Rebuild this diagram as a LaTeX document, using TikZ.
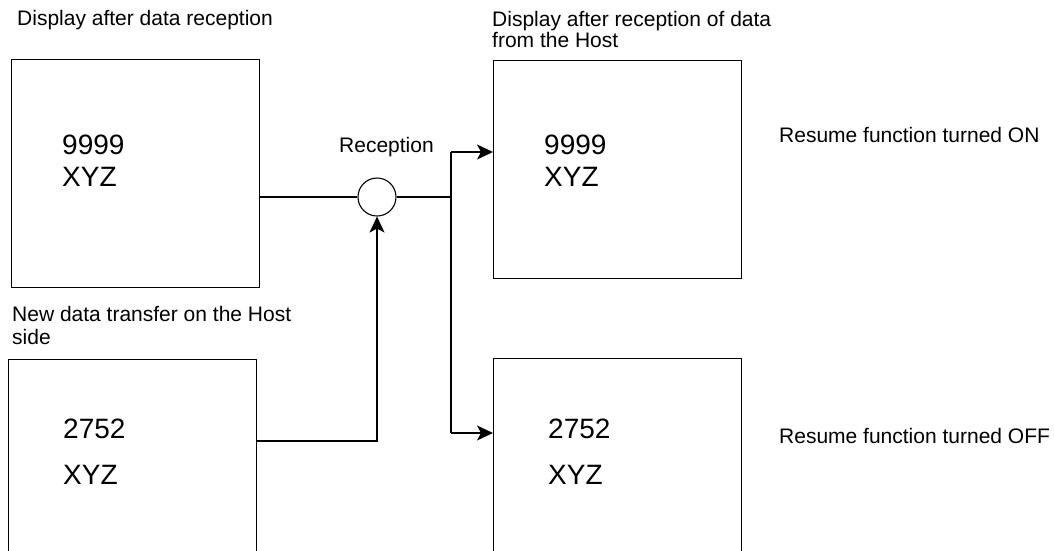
\documentclass[tikz,border=0pt]{standalone}
\usepackage{fontspec}
\setmainfont{Liberation Sans}
\usetikzlibrary{arrows.meta}
\begin{document}
\begin{tikzpicture}[x=1pt,y=-1pt,
  lbl/.style={anchor=base west,inner sep=0pt,font=\fontsize{21}{23}\selectfont},
  big/.style={anchor=base west,inner sep=0pt,font=\fontsize{28}{30}\selectfont},
  disp/.style={draw,line width=1.1pt,minimum width=248pt,anchor=north west,inner sep=0pt},
  conn/.style={line width=1.2pt},
  arr/.style={conn,-{Stealth[length=16pt,width=15pt,inset=4pt]}}]
\useasboundingbox (0,0) rectangle (1054,550);
\clip (0,0) rectangle (1054,550);

% boxes
\node[disp,minimum height=228pt] (b1) at (11,59) {};
\node[disp,minimum height=218pt] (b2) at (493,60) {};
\node[disp,minimum height=260pt] (b3) at (8,359) {};
\node[disp,minimum height=260pt] (b4) at (493,358) {};

% titles
\node[lbl] (t1) at (17,25) {Display after data reception};
\node[lbl] (t2a) at (492,26) {Display after reception of data};
\node[lbl] (t2b) at (492,47) {from the Host};
\node[lbl] (t3a) at (12,321) {New data transfer on the Host};
\node[lbl] (t3b) at (12,344) {side};
\node[lbl] (r1) at (779,142) {Resume function turned ON};
\node[lbl] (r2) at (779,443) {Resume function turned OFF};

% box contents
\node[big] (v1) at (62,154) {9999};
\node[big] (x1) at (62,186) {XYZ};
\node[big] (v2) at (544,154) {9999};
\node[big] (x2) at (544,186) {XYZ};
\node[big] (v3) at (63,438) {2752};
\node[big] (x3) at (63,484) {XYZ};
\node[big] (v4) at (548,438) {2752};
\node[big] (x4) at (548,484) {XYZ};

% reception junction
\node[draw,circle,line width=1.1pt,minimum size=38pt,inner sep=0pt] (rc) at (377,197) {};
\node[lbl] (rl) at (339,152) {Reception};

\coordinate (sp) at (451,197);
\coordinate (sb) at (451,152);
\coordinate (se) at (451,433);
\coordinate (lo) at (0,441);

\draw[conn] (b1.east |- rc) -- (rc.west);
\draw[conn] (rc.east) -- (sp);
\draw[conn] (sb) -- (se);
\draw[arr] (sb) -- (sb -| b2.west);
\draw[arr] (se) -- (se -| b4.west);
\draw[arr] (b3.east |- lo) -| (rc.south);
\end{tikzpicture}
\end{document}
